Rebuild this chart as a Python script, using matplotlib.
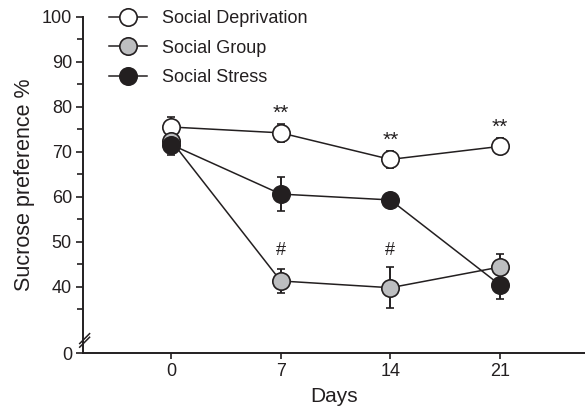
import matplotlib
matplotlib.use("Agg")
import matplotlib.pyplot as plt
from matplotlib.ticker import FixedLocator
from matplotlib.lines import Line2D

plt.rcParams['font.family'] = ['Liberation Sans', 'DejaVu Sans']

days = [0, 7, 14, 21]
labels = ["Social Deprivation", "Social Group", "Social Stress"]
deprivation = [75.5, 74.2, 68.3, 71.2]
deprivation_err = [2.3, 2.0, 1.8, 1.8]
group = [72.5, 41.3, 39.8, 44.4]
group_err = [1.5, 2.7, 4.6, 2.8]
stress = [71.6, 60.6, 59.3, 40.4]
stress_err = [2.3, 3.8, 1.6, 3.0]
stars_days = [7, 14, 21]
hash_days = [7, 14]
ytick_vals = [40, 50, 60, 70, 80, 90, 100]

edge = '#231f20'
fills = ['white', '#bdbec0', '#231f20']

fig = plt.figure(figsize=(5.85, 4.11), dpi=100)
ax = fig.add_axes([83/585, 1-353/411, 1-83/585, (353-16.7)/411])

ybase = 25.3
ax.set_ylim(ybase, 100)
ax.set_xlim(-5.62, 26.42)

series = [deprivation, group, stress]
errs = [deprivation_err, group_err, stress_err]
handles = []
for vals, err, fc, lab in zip(series, errs, fills, labels):
    ax.errorbar(days, vals, yerr=err, fmt='-o', color=edge, lw=1.1,
                elinewidth=1.4, capsize=3.2, capthick=1.4,
                markersize=12.5, markerfacecolor=fc, markeredgecolor=edge,
                markeredgewidth=1.2, zorder=3)
    handles.append(Line2D([], [], color=edge, lw=1.1, marker='o', markersize=12.5,
                          markerfacecolor=fc, markeredgecolor=edge,
                          markeredgewidth=1.2))

for d in stars_days:
    i = days.index(d)
    ax.text(d, deprivation[i] + deprivation_err[i] + 2.4, "**", ha='center',
            va='center', fontsize=15, color=edge)
for d in hash_days:
    i = days.index(d)
    ax.text(d, 48.0, "#", ha='center', va='center', fontsize=13, color=edge)

ax.spines['top'].set_visible(False)
ax.spines['right'].set_visible(False)
for s in ['left', 'bottom']:
    ax.spines[s].set_linewidth(1.4)
    ax.spines[s].set_color(edge)

ax.set_xticks(days)
ax.set_xticklabels([str(d) for d in days])
ax.set_yticks([ybase] + ytick_vals)
ax.set_yticklabels(["0"] + [str(v) for v in ytick_vals])
ax.yaxis.set_minor_locator(FixedLocator([35, 45, 55, 65, 75, 85, 95]))
ax.tick_params(axis='both', which='major', direction='out', length=5, width=1.2,
               labelsize=13, colors=edge, pad=3)
ax.tick_params(axis='y', which='minor', direction='out', length=4, width=1.2, colors=edge)
ax.tick_params(axis='x', which='major', length=4)

ax.set_xlabel("Days", fontsize=15, color=edge, labelpad=5)
ax.set_ylabel("Sucrose preference %", fontsize=15.5, color=edge, labelpad=5)

# break marks on y axis
for dy in [0, 0.8]:
    ax.plot([-5.83, -5.2], [27.6 + dy - 1.0, 27.6 + dy + 1.2], color=edge, lw=1.1,
            clip_on=False, zorder=5)

leg = ax.legend(handles=handles, labels=labels, loc='upper left',
                bbox_to_anchor=(109/585, 1 - 10/411), bbox_transform=fig.transFigure,
                frameon=False, fontsize=13, handlelength=2.1, handletextpad=0.85,
                labelspacing=0.7, borderaxespad=0, borderpad=0)
for t in leg.get_texts():
    t.set_color(edge)

fig.savefig("out.png", dpi=100)
